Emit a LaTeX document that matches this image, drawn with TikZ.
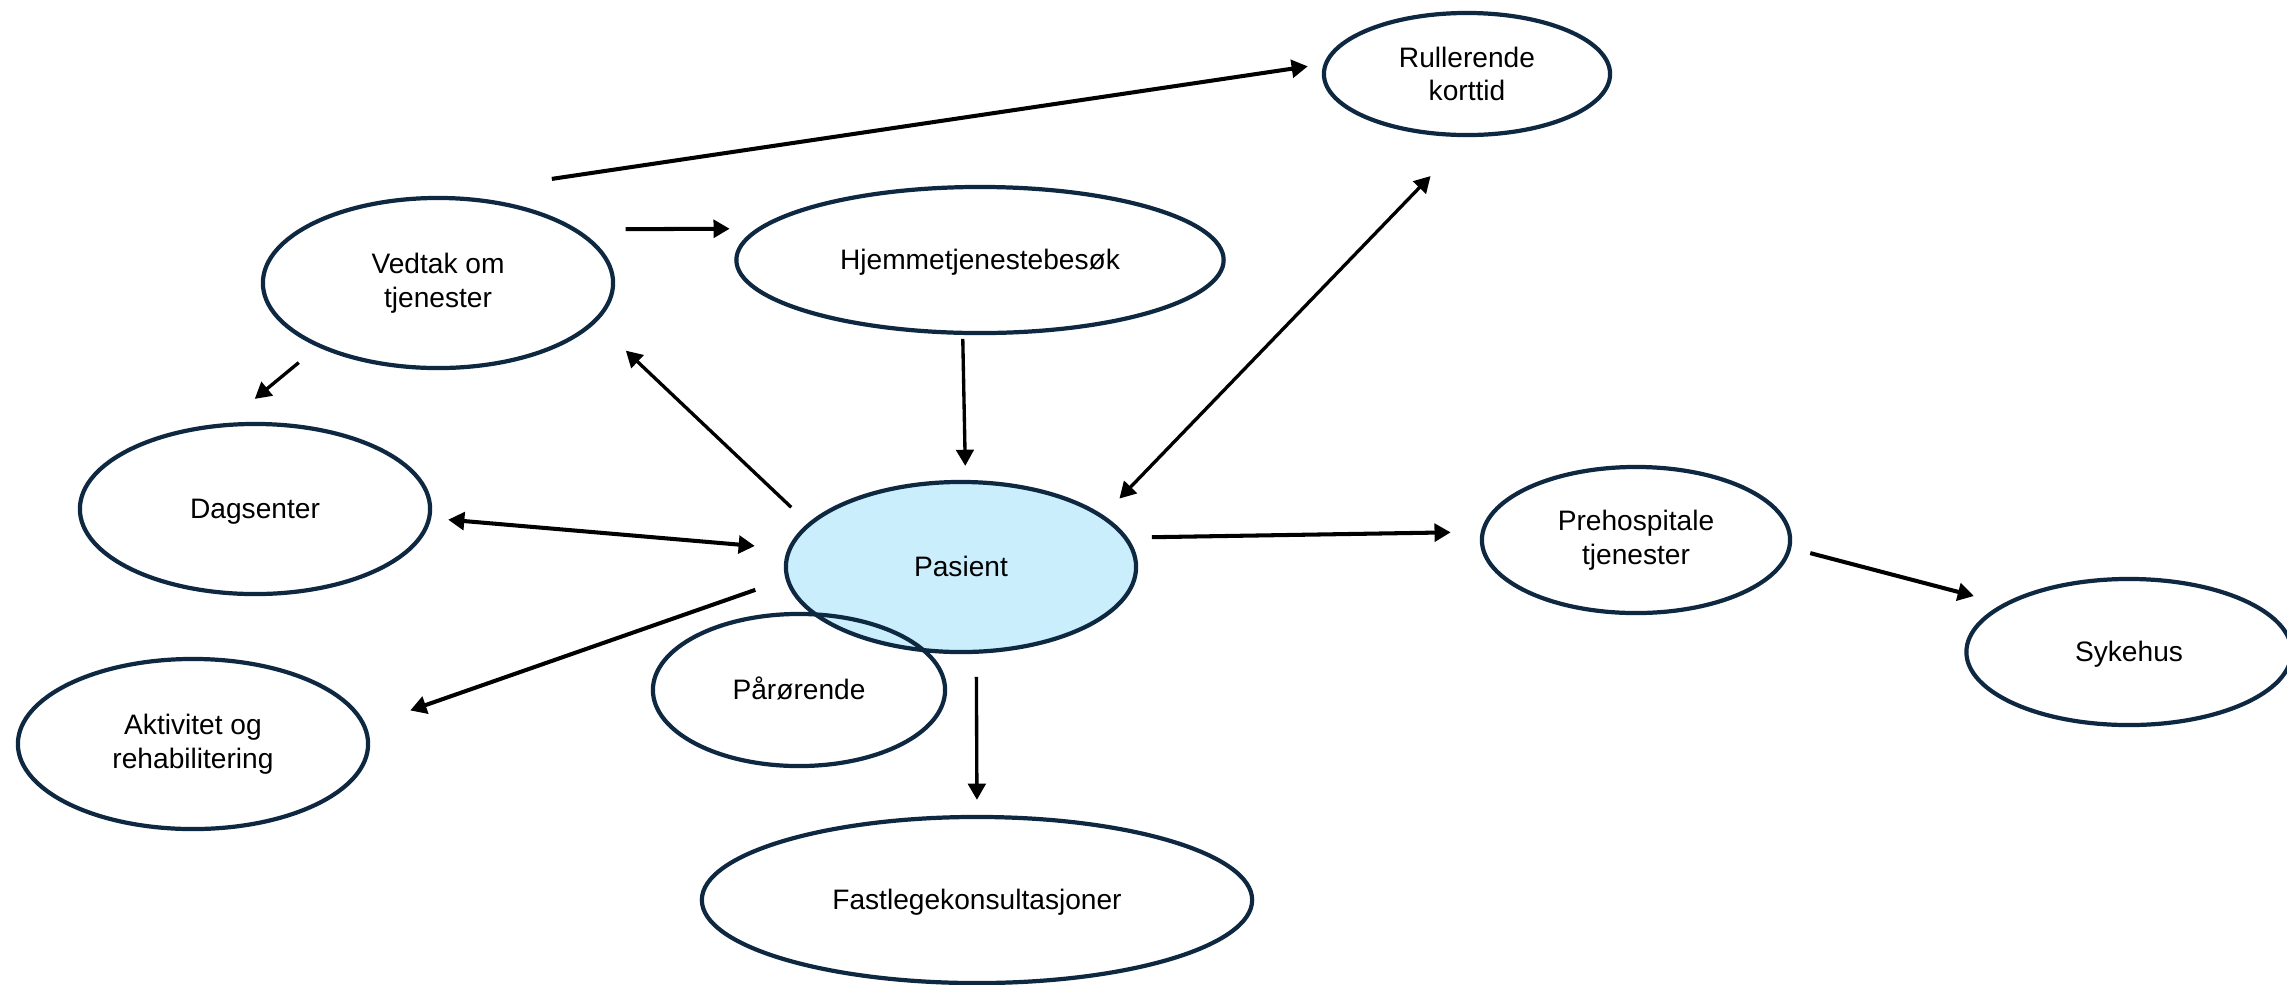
\documentclass[tikz,border=0pt]{standalone}
\usepackage{fontspec}
\setmainfont{Liberation Sans}
\usetikzlibrary{shapes.geometric, arrows.meta}

\definecolor{ringnavy}{HTML}{0E2841}
\definecolor{pasientblue}{HTML}{CAEEFB}

\begin{document}
\begin{tikzpicture}[x=0.01cm, y=-0.01cm, align=center,
    font=\fontsize{8}{9.6}\selectfont,
    >={Triangle[length=4.6pt, width=5pt]},
    bubble/.style={ellipse, draw=ringnavy, line width=1.2pt, inner sep=0pt},
    one line/.style={text height=7pt, text depth=1.5pt},
    link/.style={->, line width=0.95pt},
    heavy link/.style={link, line width=1.15pt}]

  \useasboundingbox (0, 0) rectangle (2287, 984);

  \node (pasient) at (961, 567) [bubble, one line, fill=pasientblue, minimum width=3.5cm, minimum height=1.7cm] {Pasient};

  \node (parorende) at (799, 690) [bubble, one line, minimum width=2.92cm, minimum height=1.52cm] {Pårørende};

  \node (vedtak) at (438, 283) [bubble, minimum width=3.5cm, minimum height=1.7cm] {Vedtak om\\tjenester};

  \node (hjemme) at (980, 260) [bubble, one line, minimum width=4.87cm, minimum height=1.46cm] {Hjemmetjenestebesøk};

  \node (rull) at (1467, 74) [bubble, minimum width=2.86cm, minimum height=1.22cm] {Rullerende\\korttid};

  \node (dagsenter) at (255, 509) [bubble, one line, minimum width=3.5cm, minimum height=1.7cm] {Dagsenter};

  \node (aktivitet) at (193, 744) [bubble, minimum width=3.5cm, minimum height=1.7cm] {Aktivitet og\\rehabilitering};

  \node (fastlege) at (977, 900) [bubble, one line, minimum width=5.5cm, minimum height=1.66cm] {Fastlegekonsultasjoner};

  \node (prehosp) at (1636, 540) [bubble, minimum width=3.08cm, minimum height=1.46cm] {Prehospitale\\tjenester};

  \node (sykehus) at (2129, 652) [bubble, one line, minimum width=3.25cm, minimum height=1.46cm] {Sykehus};

  % arrows stop short of the ellipses
  \draw[heavy link, shorten <=1.15cm, shorten >=0.16cm] (vedtak.90) -- (rull.176);
  \draw[heavy link, shorten <=0.48cm, shorten >=0.27cm] (vedtak.21) -- (hjemme.172);
  \draw[link, shorten <=0.245cm, shorten >=0.38cm] (vedtak.208) -- (dagsenter.109);
  \draw[link, shorten <=0.23cm, shorten >=0.41cm] (pasient.164) -- (vedtak.346);
  \draw[link, shorten <=0.04cm, shorten >=0.14cm] (hjemme.257) -- (pasient.87);
  \draw[link, <->, shorten <=0.54cm, shorten >=0.23cm] (rull.271) -- (pasient.20);
  \draw[heavy link, <->, shorten <=0.17cm, shorten >=0.33cm] (dagsenter.357.6) -- (pasient.174.7);
  \draw[heavy link, shorten <=0.32cm, shorten >=0.465cm] (pasient.184.5) -- (aktivitet.6.3);
  \draw[link, shorten <=0.23cm, shorten >=0.15cm] (pasient.280) -- (fastlege.90);
  \draw[heavy link, shorten <=0.24cm, shorten >=0.30cm] (pasient.10.4) -- (prehosp.177.7);
  \draw[heavy link, shorten <=0.196cm, shorten >=0.30cm] (prehosp.357.8) -- (sykehus.159.3);

\end{tikzpicture}
\end{document}
